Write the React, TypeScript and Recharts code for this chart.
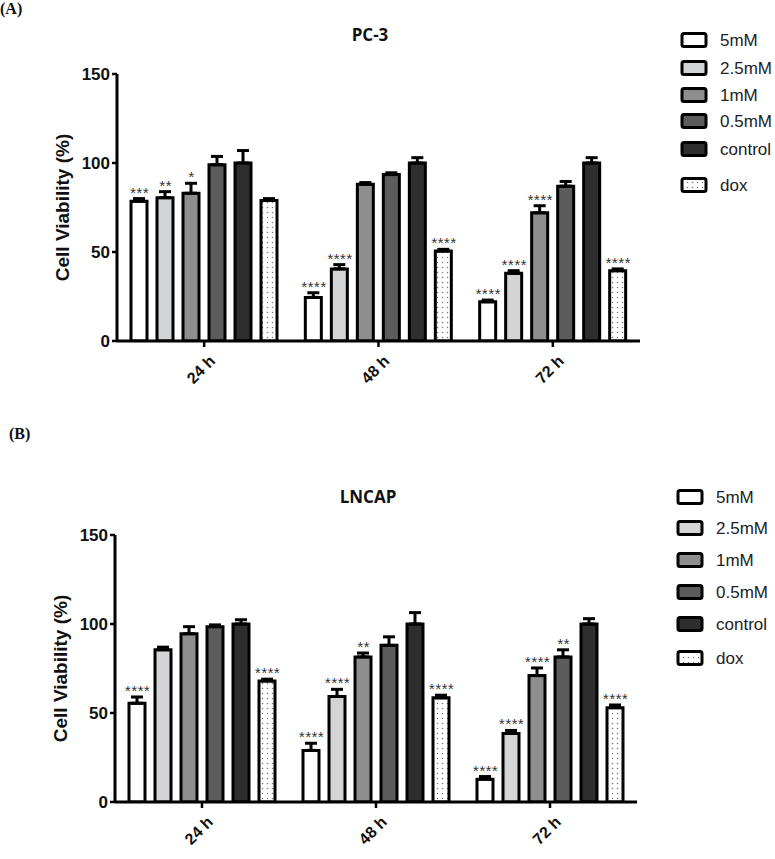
import { BarChart, Bar, XAxis, YAxis, ErrorBar, LabelList } from 'recharts'

const TIMES = ['24 h', '48 h', '72 h']
const SERIES = ['5mM', '2.5mM', '1mM', '0.5mM', 'control', 'dox']
const FILLS = ['#ffffff', '#d3d4d6', '#8e8e8e', '#5c5c5c', '#2e2e2e', 'dots']

// PC-3 (panel A)
const pc3Mean5 = [78.5, 24.5, 22]
const pc3Mean25 = [80.5, 40.5, 38]
const pc3Mean1 = [83, 88, 72]
const pc3Mean05 = [99, 93.5, 87]
const pc3MeanCtl = [100, 100, 100]
const pc3MeanDox = [79, 50.5, 39.5]
const pc3Err5 = [1.5, 2.6, 1]
const pc3Err25 = [3.4, 2.4, 1.5]
const pc3Err1 = [5.6, 1, 4]
const pc3Err05 = [4.7, 1, 2.6]
const pc3ErrCtl = [7, 3, 3]
const pc3ErrDox = [1, 1, 1]
const pc3Sig5 = ['***', '****', '****']
const pc3Sig25 = ['**', '****', '****']
const pc3Sig1 = ['*', '', '****']
const pc3Sig05 = ['', '', '']
const pc3SigCtl = ['', '', '']
const pc3SigDox = ['', '****', '****']

// LNCAP (panel B)
const lnMean5 = [55.5, 29, 12.8]
const lnMean25 = [85.5, 59.3, 38.5]
const lnMean1 = [94.5, 81.5, 71]
const lnMean05 = [98.5, 88, 81.5]
const lnMeanCtl = [100, 100, 100]
const lnMeanDox = [68, 58.5, 53]
const lnErr5 = [3.5, 4, 1.5]
const lnErr25 = [1.5, 4, 1.7]
const lnErr1 = [4, 2.2, 4.3]
const lnErr05 = [1, 4.8, 4]
const lnErrCtl = [2.4, 6.4, 3]
const lnErrDox = [1, 1.5, 1.5]
const lnSig5 = ['****', '****', '****']
const lnSig25 = ['', '****', '****']
const lnSig1 = ['', '**', '****']
const lnSig05 = ['', '', '**']
const lnSigCtl = ['', '', '']
const lnSigDox = ['****', '****', '****']

const buildRows = (means: number[][], errs: number[][], sigs: string[][]) =>
  TIMES.map((time, i) => {
    const row: any = { time }
    means.forEach((m, s) => {
      row['v' + s] = m[i]
      row['e' + s] = errs[s][i]
      row['k' + s] = sigs[s][i]
    })
    return row
  })

const pc3Rows = buildRows(
  [pc3Mean5, pc3Mean25, pc3Mean1, pc3Mean05, pc3MeanCtl, pc3MeanDox],
  [pc3Err5, pc3Err25, pc3Err1, pc3Err05, pc3ErrCtl, pc3ErrDox],
  [pc3Sig5, pc3Sig25, pc3Sig1, pc3Sig05, pc3SigCtl, pc3SigDox]
)
const lnRows = buildRows(
  [lnMean5, lnMean25, lnMean1, lnMean05, lnMeanCtl, lnMeanDox],
  [lnErr5, lnErr25, lnErr1, lnErr05, lnErrCtl, lnErrDox],
  [lnSig5, lnSig25, lnSig1, lnSig05, lnSigCtl, lnSigDox]
)

const ARIAL = '"Liberation Sans", Arial, sans-serif'

const DotPattern = ({ id }: { id: string }) => (
  <pattern id={id} width={5} height={5} patternUnits="userSpaceOnUse">
    <rect width={5} height={5} fill="#fff" />
    <circle cx={2.5} cy={2.5} r={0.75} fill="#777" />
  </pattern>
)

const XTick = ({ x, y, payload }: any) => (
  <text
    x={x + 12}
    y={y + 13}
    transform={`rotate(-45, ${x + 12}, ${y + 13})`}
    textAnchor="end"
    fontFamily={ARIAL}
    fontWeight="bold"
    fontSize={16}
    fill="#111"
  >
    {payload.value}
  </text>
)

function Panel({ rows, id, left, right, height }: any) {
  return (
    <BarChart
      width={775}
      height={height}
      data={rows}
      margin={{ top: 74, right: 775 - right, left: left - 40, bottom: height - 74 - 267 - 50 }}
      barGap={10}
      barCategoryGap={0}
    >
      <defs>
        <DotPattern id={id} />
      </defs>
      <XAxis
        dataKey="time"
        height={50}
        axisLine={{ stroke: '#000', strokeWidth: 3 }}
        tickLine={{ stroke: '#000', strokeWidth: 2.5 }}
        tickSize={6}
        tickMargin={2}
        tick={<XTick />}
        interval={0}
      />
      <YAxis
        width={40}
        domain={[0, 150]}
        ticks={[0, 50, 100, 150]}
        allowDataOverflow
        axisLine={{ stroke: '#000', strokeWidth: 3 }}
        tickLine={{ stroke: '#000', strokeWidth: 2.5 }}
        tickSize={5}
        tickMargin={2}
        tick={{ fontFamily: ARIAL, fontWeight: 'bold', fontSize: 17, fill: '#111' }}
        label={{
          content: ({ viewBox }: any) => {
            const cx = viewBox.x - 15
            const cy = viewBox.y + viewBox.height / 2
            return (
              <text
                x={cx}
                y={cy}
                transform={`rotate(-90, ${cx}, ${cy})`}
                textAnchor="middle"
                dominantBaseline="central"
                fontFamily={ARIAL}
                fontWeight="bold"
                fontSize={19}
                fill="#111"
              >
                Cell Viability (%)
              </text>
            )
          },
        }}
      />
      {SERIES.map((name, s) => (
        <Bar
          key={name}
          name={name}
          dataKey={'v' + s}
          fill={FILLS[s] === 'dots' ? `url(#${id})` : FILLS[s]}
          stroke="#000"
          strokeWidth={3}
          barSize={16}
          isAnimationActive={false}
        >
          <ErrorBar
            dataKey={(d: any) => [0, d['e' + s]]}
            direction="y"
            width={6}
            stroke="#000"
            strokeWidth={3}
            isAnimationActive={false}
          />
          <LabelList
            dataKey={'k' + s}
            content={(p: any) => {
              if (!p.value) return null
              const row = rows[p.index]
              const h = Math.abs(p.height)
              const top = Math.min(p.y, p.y + p.height)
              const errPx = (row['e' + s] * h) / row['v' + s]
              return (
                <text
                  x={p.x + p.width / 2}
                  y={top - errPx - 1}
                  textAnchor="middle"
                  fontFamily={ARIAL}
                  fontStyle="italic"
                  fontSize={15}
                  letterSpacing={0.5}
                  fill="#333"
                >
                  {p.value}
                </text>
              )
            }}
          />
        </Bar>
      ))}
    </BarChart>
  )
}

function LegendBox({ id, x, y, rowsY }: { id: string; x: number; y: number; rowsY: number[] }) {
  return (
    <svg width={100} height={230} style={{ position: 'absolute', left: x, top: y }}>
      <defs>
        <DotPattern id={id} />
      </defs>
      {SERIES.map((name, s) => (
        <g key={name}>
          <rect
            x={2}
            y={rowsY[s] - 6.5}
            width={24}
            height={13}
            rx={2}
            fill={FILLS[s] === 'dots' ? `url(#${id})` : FILLS[s]}
            stroke="#000"
            strokeWidth={3}
          />
          <text x={40} y={rowsY[s]} dominantBaseline="central" fontFamily={ARIAL} fontSize={17} fill="#222">
            {name}
          </text>
        </g>
      ))}
    </svg>
  )
}

const titleStyle: any = {
  position: 'absolute',
  width: 200,
  textAlign: 'center',
  fontFamily: '"Open Sans", sans-serif',
  fontWeight: 'bold',
  fontSize: 17,
  color: '#111',
}
const letterStyle: any = {
  position: 'absolute',
  fontFamily: '"Liberation Serif", serif',
  fontWeight: 'bold',
  fontSize: 16,
  color: '#111',
}

export default function App() {
  return (
    <div style={{ position: 'absolute', left: 0, top: 0, width: 775, height: 859, background: '#fff' }}>
      <div style={{ ...letterStyle, left: 0, top: 0 }}>(A)</div>
      <div style={{ ...letterStyle, left: 9, top: 425 }}>(B)</div>
      <div style={{ ...titleStyle, left: 270, top: 23 }}>PC-3</div>
      <div style={{ ...titleStyle, left: 268, top: 485 }}>LNCAP</div>
      <div style={{ position: 'absolute', left: 0, top: 0 }}>
        <Panel rows={pc3Rows} id="dotsA" left={117} right={640} height={420} />
      </div>
      <div style={{ position: 'absolute', left: 0, top: 461 }}>
        <Panel rows={lnRows} id="dotsB" left={115} right={637} height={398} />
      </div>
      <LegendBox id="legA" x={680} y={0} rowsY={[40, 68, 95, 121, 149, 185]} />
      <LegendBox id="legB" x={676} y={460} rowsY={[37, 68, 100, 132, 164, 198]} />
    </div>
  )
}
